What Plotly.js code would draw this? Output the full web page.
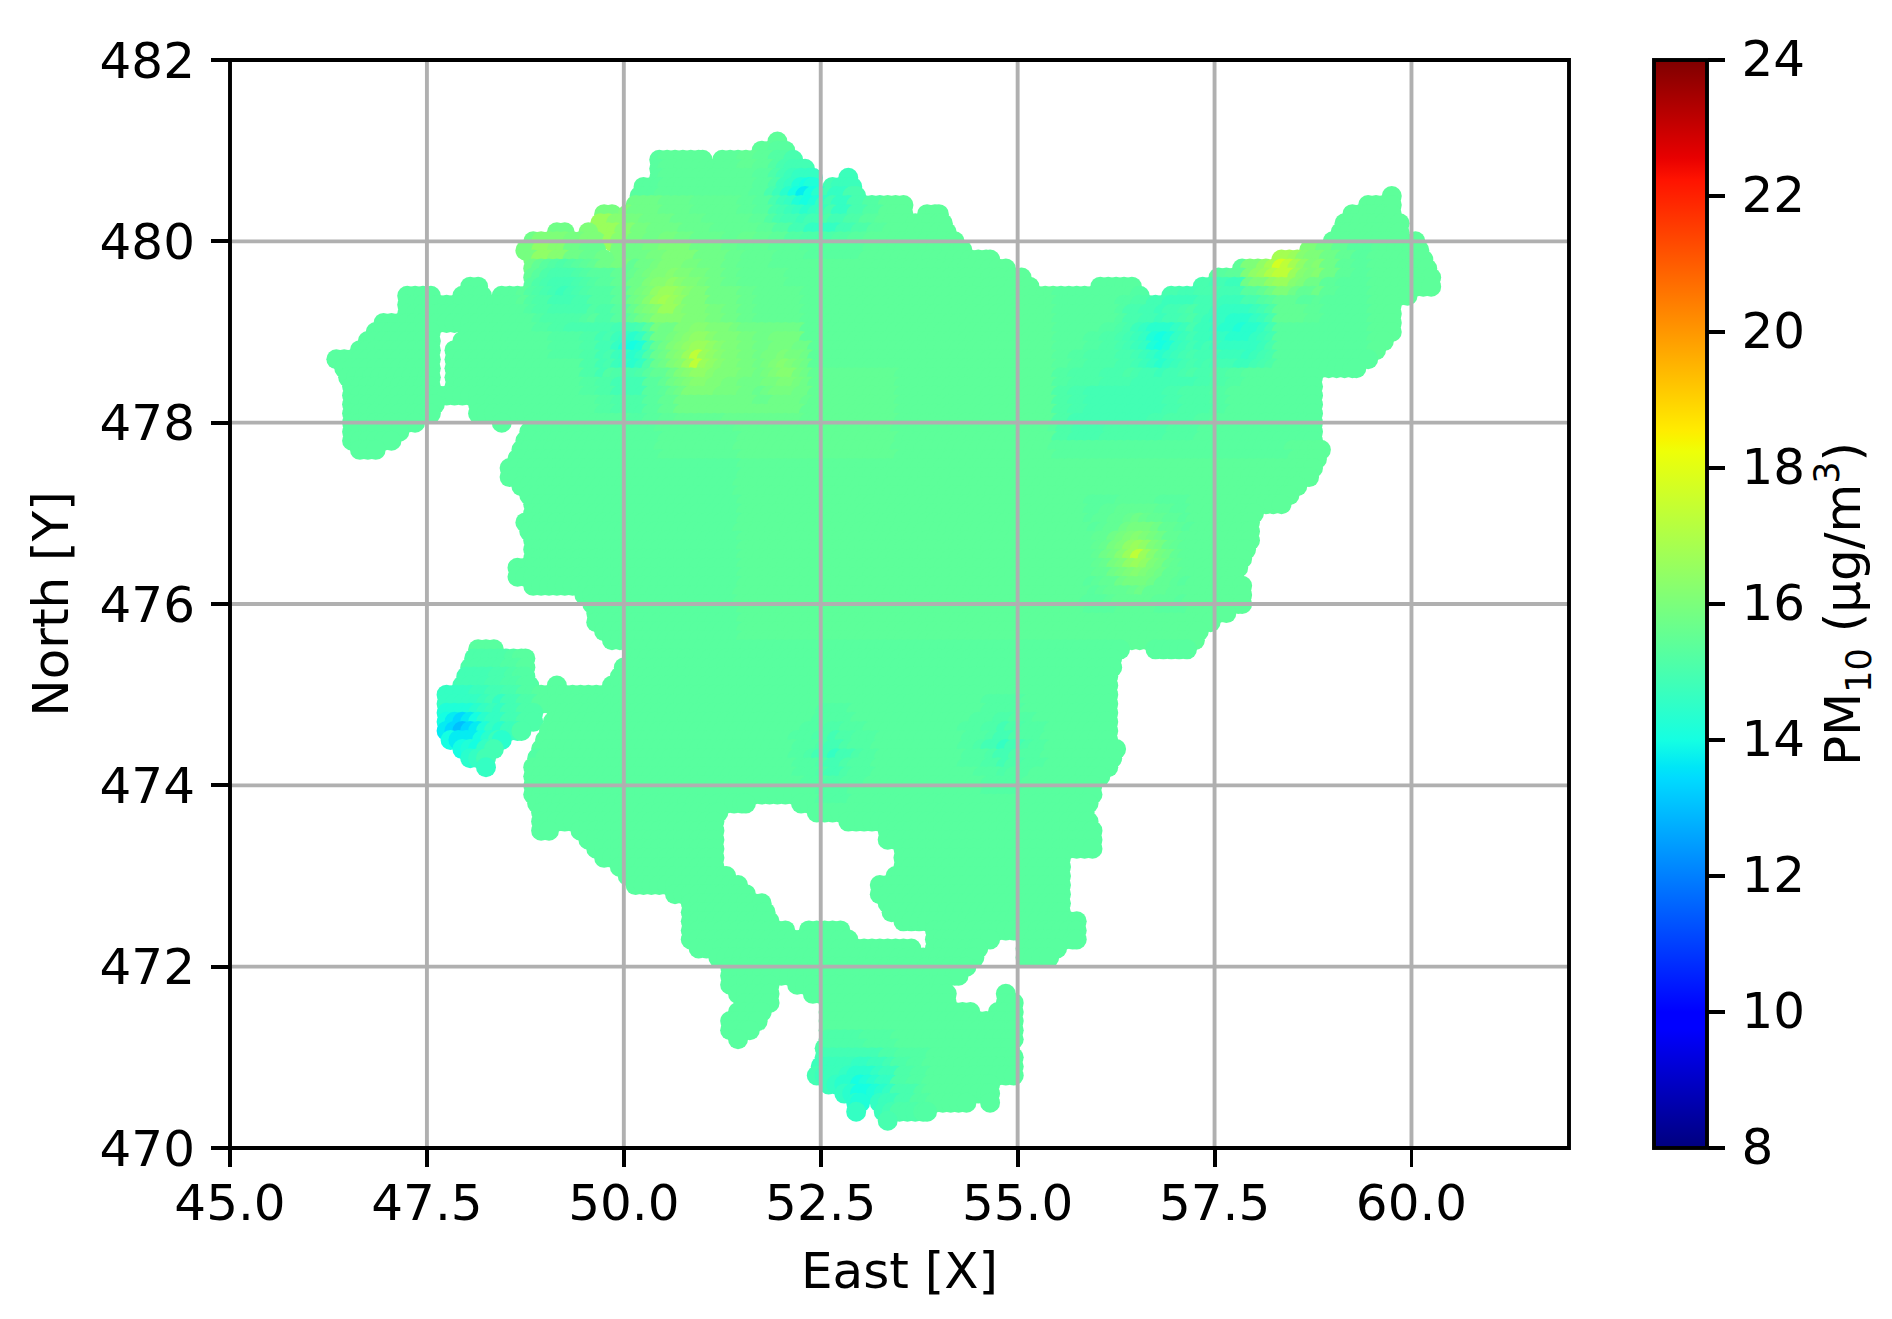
<!DOCTYPE html>
<html>
<head>
<meta charset="utf-8">
<script src="https://cdn.plot.ly/plotly-3.0.1.min.js"></script>
<style>
  html, body { margin: 0; padding: 0; background: #fff; }
  #grafico { width: 1892px; height: 1319px; }
</style>
</head>
<body>
<div id="grafico"></div>
<script>
/* ========= DATA ========= */
const xTicks = [45, 47.5, 50, 52.5, 55, 57.5, 60];
const yTicks = [470, 472, 474, 476, 478, 480, 482];
const barTicks = [8, 10, 12, 14, 16, 18, 20, 22, 24];

// map rows: north value of each row and the east ranges covered in that row
const rowY = [
  481.1, 481.0, 480.9, 480.8, 480.7, 480.6, 480.5, 480.4, 480.3, 480.2,
  480.1, 480.0, 479.9, 479.8, 479.7, 479.6, 479.5, 479.4, 479.3, 479.2,
  479.1, 479.0, 478.9, 478.8, 478.7, 478.6, 478.5, 478.4, 478.3, 478.2,
  478.1, 478.0, 477.9, 477.8, 477.7, 477.6, 477.5, 477.4, 477.3, 477.2,
  477.1, 477.0, 476.9, 476.8, 476.7, 476.6, 476.5, 476.4, 476.3, 476.2,
  476.1, 476.0, 475.9, 475.8, 475.7, 475.6, 475.5, 475.4, 475.3, 475.2,
  475.1, 475.0, 474.9, 474.8, 474.7, 474.6, 474.5, 474.4, 474.3, 474.2,
  474.1, 474.0, 473.9, 473.8, 473.7, 473.6, 473.5, 473.4, 473.3, 473.2,
  473.1, 473.0, 472.9, 472.8, 472.7, 472.6, 472.5, 472.4, 472.3, 472.2,
  472.1, 472.0, 471.9, 471.8, 471.7, 471.6, 471.5, 471.4, 471.3, 471.2,
  471.1, 471.0, 470.9, 470.8, 470.7, 470.6, 470.5, 470.4, 470.3,
];
const rowSpans = [
  [[51.95, 51.95]],
  [[51.75, 52.05]],
  [[50.45, 51.0], [51.25, 52.15]],
  [[50.45, 52.3]],
  [[50.45, 52.4], [52.85, 52.85]],
  [[50.25, 52.4], [52.65, 52.9]],
  [[50.2, 52.95], [59.75, 59.75]],
  [[50.15, 53.55], [59.45, 59.75]],
  [[49.75, 49.85], [50.05, 53.55], [53.85, 54.0], [59.25, 59.75]],
  [[49.7, 54.05], [59.15, 59.85]],
  [[49.15, 49.25], [49.55, 49.55], [49.8, 54.1], [59.1, 59.85]],
  [[48.85, 49.65], [49.85, 54.2], [59.0, 59.85], [60.05, 60.05]],
  [[48.75, 49.65], [49.95, 54.3], [58.7, 60.1]],
  [[48.85, 49.75], [50.0, 54.65], [58.35, 60.15]],
  [[48.85, 54.85], [57.85, 60.2]],
  [[48.85, 55.05], [57.55, 60.25]],
  [[48.05, 48.15], [48.85, 55.15], [56.05, 56.45], [57.35, 60.25]],
  [[47.25, 47.55], [47.95, 48.2], [48.45, 56.55], [56.95, 59.95]],
  [[47.25, 59.75]],
  [[47.25, 59.75]],
  [[46.95, 59.75]],
  [[46.85, 47.55], [48.05, 59.75]],
  [[46.75, 47.55], [47.95, 59.65]],
  [[46.65, 47.55], [47.85, 59.55]],
  [[46.35, 47.55], [47.85, 59.45]],
  [[46.45, 47.55], [47.85, 59.3]],
  [[46.5, 47.55], [47.85, 58.75]],
  [[46.55, 47.55], [47.85, 58.75]],
  [[46.55, 58.75]],
  [[46.55, 47.6], [48.15, 58.75]],
  [[46.55, 47.55], [48.15, 58.75]],
  [[46.55, 47.35], [48.45, 48.45], [48.85, 58.75]],
  [[46.55, 47.15], [48.8, 58.75]],
  [[46.55, 47.05], [48.75, 58.75]],
  [[46.65, 46.85], [48.7, 58.85]],
  [[48.65, 58.8]],
  [[48.55, 58.75]],
  [[48.55, 58.7]],
  [[48.7, 58.55]],
  [[48.8, 58.45]],
  [[48.85, 58.35]],
  [[48.85, 58.0]],
  [[48.75, 57.95]],
  [[48.8, 57.95]],
  [[48.85, 57.95]],
  [[48.85, 57.9]],
  [[48.85, 57.85]],
  [[48.65, 57.8]],
  [[48.65, 57.75]],
  [[48.85, 57.85]],
  [[49.5, 57.85]],
  [[49.6, 57.85]],
  [[49.65, 57.65]],
  [[49.65, 57.45]],
  [[49.75, 57.3]],
  [[49.85, 57.25]],
  [[48.15, 48.35], [50.1, 56.3], [56.75, 57.15]],
  [[48.1, 48.75], [50.1, 56.2]],
  [[48.05, 48.75], [50.0, 56.2]],
  [[48.0, 48.75], [49.95, 56.15]],
  [[47.95, 48.8], [49.15, 49.15], [49.85, 56.15]],
  [[47.75, 56.15]],
  [[47.75, 56.15]],
  [[47.75, 48.85], [49.15, 56.15]],
  [[47.75, 48.85], [49.1, 56.15]],
  [[47.75, 48.7], [49.05, 56.15]],
  [[47.8, 48.45], [49.0, 56.15]],
  [[47.95, 48.35], [48.95, 56.25]],
  [[48.05, 48.25], [48.9, 56.2]],
  [[48.25, 48.25], [48.85, 56.15]],
  [[48.85, 56.05]],
  [[48.85, 55.95]],
  [[48.85, 55.95]],
  [[48.9, 51.55], [52.25, 55.9]],
  [[48.95, 51.2], [52.45, 55.85]],
  [[48.95, 51.15], [52.85, 55.9]],
  [[48.95, 49.05], [49.45, 51.15], [53.35, 55.95]],
  [[49.55, 51.15], [53.35, 55.95]],
  [[49.65, 51.15], [53.55, 55.95]],
  [[49.75, 51.15], [53.55, 55.55]],
  [[49.95, 51.15], [53.55, 55.55]],
  [[50.05, 51.3], [53.45, 55.55]],
  [[50.15, 51.45], [53.25, 55.55]],
  [[50.65, 51.55], [53.25, 55.55]],
  [[50.85, 51.75], [53.35, 55.55]],
  [[50.85, 51.8], [53.4, 55.55]],
  [[50.85, 51.85], [53.55, 55.75]],
  [[50.85, 52.05], [52.35, 52.75], [53.95, 55.75]],
  [[50.85, 52.85], [53.95, 54.65], [55.1, 55.75]],
  [[50.95, 53.65], [53.95, 54.5], [55.1, 55.5]],
  [[51.2, 54.45], [55.1, 55.4]],
  [[51.35, 54.35]],
  [[51.35, 51.85], [52.0, 54.25]],
  [[51.35, 51.85], [52.2, 54.05]],
  [[51.45, 51.85], [52.4, 54.1], [54.85, 54.85]],
  [[51.55, 51.85], [52.6, 54.1], [54.85, 54.95]],
  [[51.45, 51.75], [52.6, 54.4], [54.75, 54.95]],
  [[51.35, 51.7], [52.6, 54.95]],
  [[51.35, 51.6], [52.6, 54.95]],
  [[51.45, 51.45], [52.6, 54.95]],
  [[52.55, 54.9]],
  [[52.55, 54.95]],
  [[52.5, 54.95]],
  [[52.45, 54.95]],
  [[52.6, 54.65]],
  [[52.8, 54.65]],
  [[52.95, 53.0], [53.25, 54.35], [54.65, 54.65]],
  [[52.95, 52.95], [53.3, 53.85]],
  [[53.35, 53.35]],
];

// PM10 levels used by the readings below, letters a-z in order
const pmLevels = [
  13.0, 13.4, 13.7, 14.0, 14.2, 14.4, 14.6, 14.75, 14.9, 15.0, 15.1, 15.2, 15.3,
  15.4, 15.5, 15.6, 15.75, 15.9, 16.05, 16.2, 16.4, 16.6, 16.8, 17.0, 17.3, 17.7,
];

// general reading, one cell per unit: east 46..61, north 481..470
const fieldRows = [
  "mmmmmnnmmmmmmmmm",
  "mmmmmnnnnnmmmnnn",
  "mmmmmnnnnnnmmmnm",
  "mmmmmnoonnmmmnnm",
  "mmmmmmnnnnnnnnmm",
  "mmmmmmnnnnnnnmmm",
  "mmmmmmmmmmmmmmmm",
  "mmmmmmmmmmmmmmmm",
  "mmmmmmmmmmmmmmmm",
  "mmmmmmmmmmmmmmmm",
  "mmmmmmmmmmmmmmmm",
  "mmmmmmmmmmmmmmmm",
];

// closer readings around the hot and cold spots: west corner, north corner, cell size, cells
// later ones lie over earlier ones
const spotX = [48.6, 55.6, 51.6, 52.4, 47.6, 52.1, 54.27, 52.05, 52.75, 47.75, 56.45, 57.45, 48.9, 51.75, 55.95, 50.15, 49.85, 50.55, 57.95];
const spotY = [480.4, 479.8, 481.0, 471.4, 475.4, 474.9, 475.0, 480.8, 470.9, 474.9, 479.25, 479.4, 479.7, 478.8, 477.1, 479.7, 479.05, 479.05, 479.9];
const spotStep = [0.2, 0.2, 0.2, 0.2, 0.2, 0.15, 0.15, 0.1, 0.1, 0.1, 0.1, 0.1, 0.1, 0.1, 0.1, 0.1, 0.1, 0.1, 0.1];
const spotCells = [
  ["mnoooprsqqppooonmlk", "noqqqsvtrqqppoonmlk", "oqssrsvtrqrqppoonml", "orutqpqrqrssqqpoonn",
   "nqrmkkmoqtusrqpooon", "mnmihjlnquwtsqqpooo", "mmlihikmotvtsrqpooo", "mmlkjjjklpsutsrqqqq",
   "mmmllkifemsvxusrqrr", "mmmmmkifemsvwusrrrr", "mmmmmlkiimqstsrqqqq", "mmmmmmlkkmoqqqqqqqq",
   "mmmmmmmmlmnoooppppp"],
  ["mmmmmmmmmmmnqtvvsqom", "mmmmmmmlllmnruxxtqnm", "mmmmmlkjijihjqssqnmm", "mmmmlkihhigfgloonmmm",
   "mmmlkjgefhgfgkmmmmmm", "mmlkjhfdfhihhkmmmmmm", "mlkkjigfgikkklmmmmmm", "lkkjjiiiijklmmmmmmmm",
   "kjiiiiijkklmmmmmmmmm", "kiiiiijkklmmmmmmmmmm", "kjjkkkkllmmmmmmmmmmm"],
  ["onmlkklmn", "onljhhjlm", "nmkhgghkl", "nmjgffgjl", "onliggikm", "ponlkklmn", "oonnmmmmn"],
  ["mmmmmmmmm", "kkkkllmmm", "jiiiikllm", "ihggghklm", "hggfghjlm", "ihggghklm", "jjiiiklmm"],
  ["kkkkklmm", "iiiijklm", "ggghijlm", "eedegikm", "ecacfhkm", "fedegilm", "hgggikmm"],
  ["mmmmmmmmm", "mmmlllmmm", "mmllkllmm", "mllkikllm", "mlkigiklm", "mllkikllm", "mmllkllmm", "mmmlllmmm", "mmmmmmmmm"],
  ["mmmmmmmmm", "mmmlllmmm", "mmllkllmm", "mllkikllm", "mlkigiklm", "mllkikllm", "mmllkllmm", "mmmlllmmm", "mmmmmmmmm"],
  ["jiiiijk", "ihggghj", "hgedegi", "hfdcdfi", "hgedegi", "ihgfghj", "jiihiik"],
  ["hhggghi", "hgfffgh", "gfedefg", "gfedefg", "hgfefgh", "hhgfghi", "ihhghij"],
  ["ggggghi", "eeeefgh", "dcbcdfg", "cbabceg", "dcccdfh", "fededgi", "gfffgik"],
  ["kjjjijjkk", "jjiihiijk", "jihggghij", "jhgfffghj", "ihgedeghi", "jhgfefghj", "jihgfghij", "jjihghijk", "kjiihiijk"],
  ["jjiiiijkm", "iihhhhijl", "ihgggghik", "hggfffghj", "hgffeffgi", "hggfffghi", "ihggggghj", "iihhhghij", "jiiihhijk"],
  ["qomlklmno", "omkjjjklm", "mkjiiijkl", "lkjihijkl", "lkjiiijkl", "lkjjjjjkl", "mlkkkkklm"],
  ["qqrrrqq", "qrrsrrq", "qrstsrq", "qrsttrq", "qrrssrq", "pqrrrqq", "ppqqqqp"],
  ["mmmmnnnnnmmmm", "mmnnooooonnmm", "mnnoopqpoonnm", "mnooqrrrqoonm", "nooqrstsrqoon", "noprsuvusrpon",
   "noqrtvyvtrqon", "noprsuvusrpon", "nooqrstsrqoon", "mnooqrrrqoonm", "mnnoopqpoonnm", "mmnnooooonnmm", "mmmmnnnnnmmmm"],
  ["oqqrsssrr", "pqrsstssr", "qqsttutss", "qrsuvvuts", "qrtvwvuss", "prstvvtss", "oqrttttss", "nprsttsss", "moqssssss"],
  ["kkkkkmq", "jiiijmr", "jhgfgkq", "igedeio", "jhgfgkp", "kiihiko", "lkkjkmo"],
  ["oqsssssss", "qqssttsss", "qrstuutss", "qstuvvuts", "qstvyvuts", "qstuvvtss", "oqstuutss", "oqrsttssr", "npqssssrr"],
  ["qqsstttss", "qsuvwwvts", "ssuwzywus", "suvxyyvts", "qssuvvtsq", "mmoqssqoo", "jjlmooomm"],
];

/* ========= BUILDING THE POINTS ========= */
function leituraPM(x, y) {
  let nivel = fieldRows[Math.round(481 - y)][Math.round(x - 46)];
  spotCells.forEach((cells, s) => {
    const linha = cells[Math.round((spotY[s] - y) / spotStep[s])];
    if (!linha) return;
    const c = linha[Math.round((x - spotX[s]) / spotStep[s])];
    if (c) nivel = c;
  });
  return pmLevels[nivel.charCodeAt(0) - 97];
}

const pontosX = [];
const pontosY = [];
const pontosPM = [];
function adicionarPonto(x, y) {
  pontosX.push(x);
  pontosY.push(y);
  pontosPM.push(leituraPM(x, y));
}
rowY.forEach((y, i) => {
  rowSpans[i].forEach(([x0, x1]) => {
    for (let k = 0; x0 + k * 0.1 < x1 - 0.001; k++) {
      adicionarPonto(x0 + k * 0.1, y);
    }
    // the range always ends on its last east value
    adicionarPonto(x1, y);
  });
});

/* ========= COLOURS (jet) ========= */
const jet = [
  [0, "rgb(0,0,127)"], [0.11, "rgb(0,0,255)"], [0.125, "rgb(0,0,255)"],
  [0.34, "rgb(0,219,255)"], [0.35, "rgb(0,230,247)"], [0.375, "rgb(21,255,226)"],
  [0.64, "rgb(238,255,8)"], [0.65, "rgb(247,246,0)"], [0.66, "rgb(255,236,0)"],
  [0.89, "rgb(255,19,0)"], [0.91, "rgb(232,0,0)"], [1, "rgb(127,0,0)"],
];

/* ========= CHART ========= */
const fonte = { family: "DejaVu Sans, sans-serif", size: 50, color: "#000" };
const corGrade = "#b0b0b0";

// the grid of the reference sits over the points, so it goes in as shapes
const formas = [];
xTicks.forEach((v) => formas.push({
  type: "line", layer: "above", xref: "x", yref: "paper", x0: v, x1: v, y0: 0, y1: 1,
  line: { color: corGrade, width: 3.9 },
}));
yTicks.forEach((v) => formas.push({
  type: "line", layer: "above", xref: "paper", yref: "y", x0: 0, x1: 1, y0: v, y1: v,
  line: { color: corGrade, width: 3.9 },
}));
// frame centred on the plot edge
formas.push({
  type: "rect", layer: "above", xref: "paper", yref: "paper", x0: 0, x1: 1, y0: 0, y1: 1,
  line: { color: "#000", width: 3.9 },
});

const eixo = {
  showgrid: false,
  zeroline: false,
  showline: false,
  ticks: "outside",
  ticklen: 18,
  tickwidth: 3.9,
  tickcolor: "#000",
  tickfont: fonte,
};

Plotly.newPlot(
  "grafico",
  [
    {
      type: "scatter",
      mode: "markers",
      x: pontosX,
      y: pontosY,
      hoverinfo: "skip",
      marker: {
        size: 20,
        color: pontosPM,
        cmin: 8,
        cmax: 24,
        colorscale: jet,
        line: { width: 0 },
        colorbar: {
          x: 1.0635,
          xanchor: "left",
          xpad: 0,
          y: 0,
          yanchor: "bottom",
          ypad: 0,
          len: 1,
          thickness: 53,
          outlinecolor: "#000",
          outlinewidth: 3.9,
          tickmode: "array",
          tickvals: barTicks,
          ticks: "outside",
          ticklen: 17,
          tickwidth: 3.9,
          tickcolor: "#000",
          tickfont: fonte,
          title: { text: "PM<sub>10</sub> (µg/m<sup>3</sup>)", side: "right", font: fonte },
        },
      },
    },
  ],
  {
    width: 1892,
    height: 1319,
    margin: { l: 230, r: 323, t: 60, b: 170.5 },
    paper_bgcolor: "#fff",
    plot_bgcolor: "#fff",
    showlegend: false,
    font: fonte,
    shapes: formas,
    xaxis: {
      ...eixo,
      range: [45, 62],
      tickmode: "array",
      tickvals: xTicks,
      ticktext: xTicks.map((v) => v.toFixed(1)),
      ticklabelstandoff: -7,
      title: { text: "East [X]", font: fonte, standoff: 21 },
    },
    yaxis: {
      ...eixo,
      range: [470, 482],
      tickmode: "array",
      tickvals: yTicks,
      ticklabelstandoff: 6,
      title: { text: "North [Y]", font: fonte, standoff: 15 },
    },
  },
  { displayModeBar: false, staticPlot: true },
).then(() => {
  // colour bar labels and title sit a bit further from the bar than plotly leaves them
  document.querySelectorAll(".colorbar .cbaxis text").forEach((t) => {
    t.setAttribute("x", Number(t.getAttribute("x")) + 6);
    t.setAttribute("y", Number(t.getAttribute("y")) - 1.5);
  });
  document.querySelectorAll(".colorbar .cbtitle").forEach((g) => {
    g.setAttribute("transform", (g.getAttribute("transform") || "") + " translate(6,0)");
  });
});
</script>
</body>
</html>
